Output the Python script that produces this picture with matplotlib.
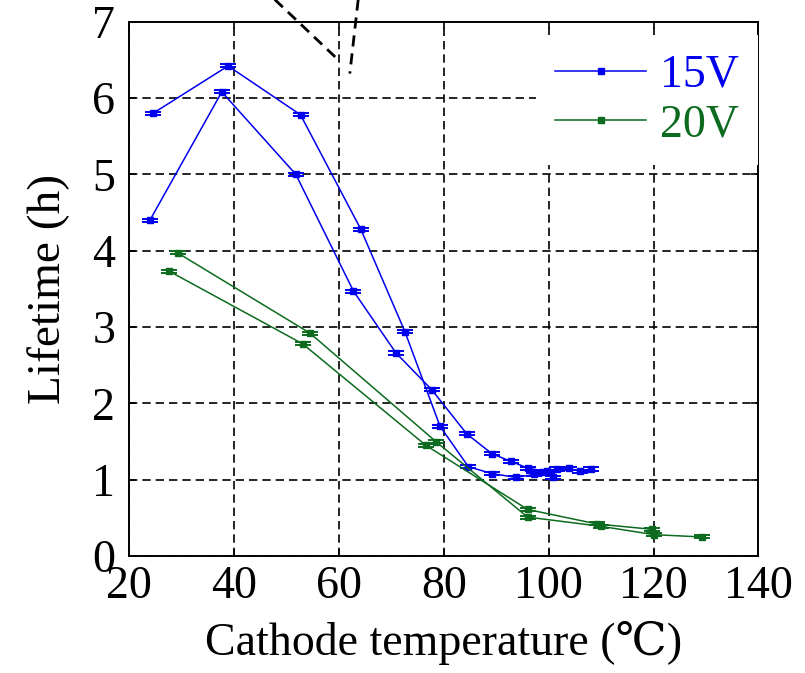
import matplotlib
matplotlib.use("Agg")
import matplotlib.pyplot as plt
from matplotlib.lines import Line2D

plt.rcParams['font.family'] = ['Liberation Serif', 'DejaVu Serif', 'Noto Sans CJK SC']

# ---- data ----
x_15v_a = [24.6, 38.9, 52.7, 64.2, 72.6, 79.3, 84.7, 89.2, 93.8, 97.3, 98.7, 100.9]
y_15v_a = [5.80, 6.42, 5.78, 4.28, 2.94, 1.70, 1.17, 1.08, 1.03, 1.07, 1.10, 1.03]

x_15v_b = [24.0, 37.7, 51.8, 62.8, 70.9, 77.7, 84.4, 89.2, 92.8, 96.1, 99.6, 101.5, 103.8, 106.0, 108.0]
y_15v_b = [4.40, 6.08, 5.00, 3.47, 2.66, 2.18, 1.60, 1.34, 1.24, 1.15, 1.11, 1.14, 1.15, 1.11, 1.14]

x_20v_a = [29.3, 54.5, 78.5, 96.0, 109.9, 120.1, 129.2]
y_20v_a = [3.97, 2.92, 1.50, 0.51, 0.39, 0.28, 0.25]

x_20v_b = [27.7, 53.1, 76.6, 96.0, 109.2, 119.7]
y_20v_b = [3.73, 2.78, 1.45, 0.61, 0.42, 0.35]

err = 0.02

x_ticks = [20, 40, 60, 80, 100, 120, 140]
y_ticks = [0, 1, 2, 3, 4, 5, 6, 7]

labels = ["15V", "20V"]
x_label = "Cathode temperature (℃)"
y_label = "Lifetime (h)"

# decorative dashed annotation lines (partially cropped arrow at the top)
arrow1_x = [47.8, 60.2]
arrow1_y = [7.29, 6.48]
arrow2_x = [63.7, 62.1]
arrow2_y = [7.29, 6.32]

# ---- style ----
BLUE = '#0000ee'
GREEN = '#0c6b1e'

fig = plt.figure(figsize=(8.05, 6.73), dpi=100)
ax = fig.add_axes([0.1602, 0.1738, 0.9422 - 0.1602, 0.9678 - 0.1738])

def draw(x, y, color, label=None):
    ax.errorbar(x, y, yerr=[err] * len(y), color=color, lw=1.1, marker='s',
                markersize=4, capsize=6, capthick=1.4, elinewidth=1.1,
                label=label, zorder=3)

draw(x_15v_a, y_15v_a, BLUE, labels[0])
draw(x_15v_b, y_15v_b, BLUE)
draw(x_20v_a, y_20v_a, GREEN, labels[1])
draw(x_20v_b, y_20v_b, GREEN)

ax.set_xlim(20, 140)
ax.set_ylim(0, 7)
ax.set_xticks(x_ticks)
ax.set_yticks(y_ticks)
ax.tick_params(direction='in', length=5, width=1.2, labelsize=33,
               top=True, right=True)
ax.tick_params(axis='x', pad=7)
ax.tick_params(axis='y', pad=10)

ax.grid(True, color='black', linestyle=(0, (5, 3)), linewidth=1.2, zorder=1)
ax.set_axisbelow(True)
for s in ax.spines.values():
    s.set_linewidth(1.4)

ax.set_xlabel(x_label, fontsize=33, labelpad=9)
ax.set_ylabel(y_label, fontsize=34, labelpad=16)

ax.plot(arrow1_x, arrow1_y, color='black', lw=2, linestyle=(0, (4, 2.5)), clip_on=False, zorder=4)
ax.plot(arrow2_x, arrow2_y, color='black', lw=2, linestyle=(0, (4, 2.5)), clip_on=False, zorder=4)

handles = [Line2D([], [], color=BLUE, lw=1.1, marker='s', markersize=4),
           Line2D([], [], color=GREEN, lw=1.1, marker='s', markersize=4)]
leg = ax.legend(handles, labels, loc='upper right', bbox_to_anchor=(1.0, 0.975),
                borderaxespad=0, fontsize=33, handlelength=2.0, handletextpad=0.3,
                labelspacing=0.15, borderpad=0.42, frameon=True, fancybox=False,
                framealpha=1.0)
leg.get_frame().set_edgecolor('none')
leg.get_frame().set_facecolor('white')
for t, c in zip(leg.get_texts(), [BLUE, GREEN]):
    t.set_color(c)

fig.savefig("out.png", dpi=100)
